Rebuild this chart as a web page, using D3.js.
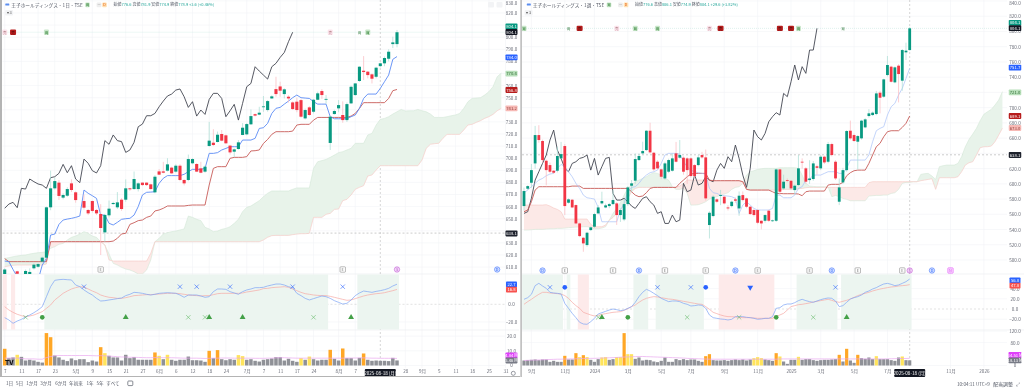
<!DOCTYPE html>
<html>
<head>
<meta charset="utf-8">
<script src="https://cdn.jsdelivr.net/npm/d3@7"></script>
<style>
html, body { margin: 0; padding: 0; background: #fff; overflow: hidden; }
svg { display: block; filter: blur(0.3px); }
text { font-family: "Noto Sans CJK JP", "Noto Sans", sans-serif; }
</style>
</head>
<body>
<div id="chart"></div>
<script>
// ---- daily chart (left) ----
const leftOpen = [598,600,602,606.5,600,604,604,609,610.3,614.5,
617.8,659.4,675.1,679.8,667.4,669,679.2,671.8,null,664.6,
657.2,664.6,657.2,653.9,638.7,652.8,662.1,659.4,665.7,665.7,
675.1,674.5,674.5,679.8,679.8,678.4,671.8,689.1,689.1,689.7,
692.2,688.9,693.8,682,682,695.8,695.2,691.6,688.9,710.1,
712.8,713.4,720,718.9,710.4,705.4,707.6,719.2,719.7,728,
736.4,736,742.5,739.8,749.4,757.1,759.3,753,750.8,746.1,
746.7,748,732.9,742,738.4,748.3,755.5,748.8,712.6,736.5,
741.2,735.7,731.5,745.3,752.2,763.8,772.3,771.5,769.3,767.3,
776.1,778.4,782.2,794.3,794.3];
const leftClose = [608,598,599,604.5,602,606.8,606,612,612.5,617.8,
659.4,675.1,681.1,668.8,669.6,674.5,673.7,665.4,null,659.1,
654.4,656.4,654.4,642.3,653.1,658.3,663,663.5,658,675.1,
674.3,682.8,679.2,677.8,677.8,674.5,684.7,686.4,688,694.9,
687.5,693.8,682,679.2,699.3,699.3,688.9,688,693,714.5,
710.9,719.4,714.5,712.3,704.8,707.3,713.1,725.2,728.2,734.8,
735.2,737.6,742.8,747.2,751.1,753,755.8,756.9,749.4,740.6,
739.8,734.3,739.8,735.7,748.3,753.6,752.2,749,734.3,739,
743.9,731.5,744.7,759,761.8,775.6,771.2,768.7,765.7,774.8,
778.4,782.8,788,795.7,804.1];
const leftHigh = [609,601,603,607,603,608,609,613,613.5,618.6,
660,689.7,684,682,671,676,682.5,672.5,null,670,
658,665,658,662,654,665,664,672,667,682.5,
675.5,689,680,680,680,679,686,691,697,700,
693,695,695,682.5,703,700,696,697,694,730,
724,722,723.3,719.5,711,708,715,729,729,740.3,
737,742.5,751.4,748,752,767.3,763.2,757.7,752,747,
750,749,741,743,749,755,757,752.2,735,740,
748,747,746,760,762,776,784.4,772,770,775.5,
779,784,790,800.4,806];
const leftLow = [596,596,597,600,598,603,603,608,609.5,614,
617,657,674,665.5,666,668,672,663.2,null,657.5,
653,655,653,620,631,651,661.5,658,656.5,664,
673,674,672.5,677,677,674,671,686,687.5,689,
687,688,681,677.5,681,695,688.5,687.5,688,709.5,
710,713,714,712,703,701,707,719,719,727.5,
734.5,735.5,738.4,738.5,749,750.8,750.8,749.4,746,740,
738,733.5,732,735,737,748,749,745,706.8,736,
738,729.3,730,745,751.5,763,764.6,766,761.8,766,
775,776,780,791,791.6];
const leftTenkan = [615,614.5,608,602,599.3,599.3,599.3,599.3,599.3,611.7,
617.2,636.5,637.3,645.3,648.9,649.7,650.3,651.1,652.2,673.7,
671,669,666.8,653,653,646.2,644.8,647,649.5,650,
650.3,653,660,669.6,671.8,672,672.3,679.2,683.4,685.6,
685.6,685.6,685.6,686.7,688.9,690.8,690.8,690.8,691.6,704,
704,704.6,706.8,708.1,709.5,709.5,709.5,715,715,715,
716.4,724.6,725.2,728.8,737,741.2,742,744.7,747.2,750,
752.2,750,749.7,749.4,746.7,744.7,744.7,744.7,734.3,732.6,
732.6,732.6,732.6,734.3,735.7,741.2,749.4,753,753,753,
757.7,763.2,768.7,781.7,784];
const leftKijun = [617,614.5,614.5,614.5,614.5,614.5,614.5,614.5,614.5,614.5,
614.5,631,631,631,631,631,631,631,631,631,
631,631,631,631,631,631,631.5,633.8,637.4,637.9,
645.3,646.7,648.4,648.9,651.1,652.2,656.4,657.2,658.6,660.5,
660.5,660.5,660.5,660.5,661,661.3,661.3,661.3,661.3,677.8,
691.6,693,693,693,699.9,700.7,700.7,700.7,701.3,706,
706.2,706.8,712.2,715.5,719.7,721.9,721.9,721.9,721.9,722.4,
727.4,728,728,728,731.5,733.7,733.7,733.7,733.7,733.7,
733.7,733.7,733.7,734.8,737,741.2,745.9,745.9,745.9,745.9,
745.9,745.9,749.4,755.8,756.8];
const leftChikou = [658.6,662.1,663.5,659.1,675.1,674.5,682.8,680.6,678.7,677.8,
675.1,683.9,684.7,687.5,694.9,688,693.8,682.8,679.8,699.3,
695.8,689.7,687.8,693.8,714.5,711.5,719.2,714.5,713.7,704.8,
706.8,713.1,726,728.2,735.1,735.1,737,742.5,747.2,751.4,
753,756.3,757.2,750.8,742,746.7,734.8,739.8,736.2,748.6,
753.6,753.6,749.4,734.3,739.2,744.5,731.5,745.3,759.1,761.8,
775.6,772,768.7,765.4,775.6,778.4,783.3,787.4,796.3,804.1];
const leftSpanA = [617.2,617.8,618.6,619.2,619.7,620,620.8,621.4,621.9,622.2,
622.7,625.5,626.9,628.8,629.6,632.4,634.6,635.7,637.3,639.3,
637.9,635.7,634.6,631,628.3,620.8,613.1,611.7,609.8,608.4,
607.6,606.2,604.3,604.3,607.6,615.9,631,633.8,637.4,638.4,
639.3,639.8,640.7,641.5,652.2,651.1,649.5,648.4,642.9,641.5,
639.3,639.8,641.2,642,643.4,646.2,649.5,655.8,659.4,660.5,
662.7,664.9,668.2,671,672.9,672.9,672.9,672.9,672.9,674.3,
675.4,675.4,675.4,675.4,691.6,697.1,698,699,700.7,702.6,
704.6,705.4,706.8,708.2,712.3,712.3,712.3,719.2,720.5,727.4,
732.1,732.9,734.3,736.5,738.4,740.3,739,739.2,739.2,740.3,
739.2,738.4,736.5,733.7,733.7,733.7,734.3,735.1,735.7,737,
741.2,746.7,749.4,749.7,750,752.2,754.9,759.1,767.3,770.4];
const leftSpanB = [610.3,611,611.5,611.7,611.7,611.7,611.7,611.7,611.7,611.7,
612.6,631,631,631,631,631,631,631,631,631,
631,631,631,631,628.3,615.9,615,615,615,615,
615,615,615,615,615,621.4,631,631,631,631,
631,631,631,631,631,631,631,631,631,631,
631,631,631,631,631,631,631,631,631,631,
631,631,632.4,634.6,636,636.2,636.2,636.2,636.2,636.8,
637.3,637.6,637.6,637.9,651.1,651.1,651.1,653.6,654.4,657.7,
658,664.9,666,669.6,674.3,675.9,677.3,685.3,686.1,690.2,
693.8,693.8,693.8,693.8,693.8,693.8,693.8,693.8,693.8,693.8,
698.5,708.1,711.5,712,712.3,716.4,719.7,719.7,719.7,719.7,
723.3,727.4,728,729.6,731,732.9,734.3,736.2,739.2,741.2];
const leftMacd = [-15.1,-17.7,-21.5,-18.9,-17,-14.3,-12.1,-9.5,-6.4,-2.7,
8.6,19.9,27.1,27.8,28.2,27.8,27.5,21.8,19.9,16.2,
13.1,10.5,6.7,3.7,4.1,4.9,5.6,6.4,7.1,9.8,
11.3,13.5,13.1,12.4,11.3,10.5,11.3,12.4,12.8,13.1,
12.8,12.4,10.5,7.9,10.5,10.5,10.5,9.4,7.9,8.6,
14.3,17.3,17.3,16.9,14.3,12.8,11.3,14.3,16.2,17.3,
18.8,18.8,19.2,20.7,21.8,22.9,22.9,21.8,19.9,18.8,
12.4,9.8,6.7,4.9,6.4,7.9,9.4,8.6,6.7,4.1,
2.2,0.3,1.1,4.9,9.8,12.8,15,14.3,13.5,14.6,
15.4,16.5,18,20.7,22.7];
const leftSignal = [-2.7,-6.4,-9.1,-11.3,-12.8,-14,-13.2,-12.1,-10.2,-8.3,
-4.6,-0.8,4.9,8.6,12.4,15,17.3,18.8,19.9,19.5,
17.3,15,13.1,10.5,9,7.9,7.5,6.7,6.7,7.5,
8.6,9.8,10.1,10.5,10.9,10.9,11.3,11.6,12,12.4,
12.4,12.4,12,11.3,10.5,10.1,9.8,9.4,9.8,9.8,
10.9,12,12.4,12.4,12.4,12.4,12.4,12.8,13.9,14.6,
15.4,16.2,17.7,18,18.8,19.2,19.5,19.9,19.2,17.3,
15.4,13.5,12,11.3,10.5,10.1,9.8,9.8,9,7.9,
6.7,5.6,4.5,4.9,6.4,7.9,9.4,10.5,11.3,12,
12.4,13.1,14.3,15.4,16.8];
const leftVolume = [11.4,5,5.5,7.3,5.9,3.4,3.9,3.4,2.5,2,
22.1,19.3,6.8,5.5,3.9,3,4.8,3.6,4.3,4.3,
2.3,3.4,2.7,12.5,8.4,6.6,5.5,5.5,3.4,7.3,
5,5.7,3.9,3.9,3.9,3.9,8.9,6.6,4.3,7.3,
3.9,3.2,3.9,3.9,6.1,3.6,3.6,3.4,2.5,10,
5,10.5,4.3,3.6,4.3,3.9,7.1,6.4,3.9,4.3,
3.2,2.7,3.9,4.3,4.8,5.7,5.7,3.4,4.6,3.2,
2.5,5,3.9,6.1,4.3,3.4,3.9,3.9,10.7,4.6,
3.4,11.6,5,5,3.4,5.2,8.2,3.9,3.2,3.4,
3.2,3.2,3,5.2,3.46];
const leftVolumeMa = [5,5.1,5.1,5,4.8,4.5,4.5,4.5,4.3,4.3,
5.4,6.1,6.6,6.8,6.8,6.8,6.8,6.8,6.8,6.8,
6.8,6.7,6.6,6.7,6.6,6.4,6.2,6,5.8,5.8,
5.6,5.6,5.5,5.4,5.3,5.3,5.4,5.4,5.3,5.3,
5.3,5.2,5.1,5,5,5,5,4.9,4.8,4.9,
5,5,5.1,5.1,5.1,5,5,5,5,5,
4.9,4.9,4.9,5,5,5.2,5.3,5.3,5.2,5.1,
5,5,5,5,5,5,5,5,5,5,
5,5,5.1,5.1,5.1,5.2,5.2,5.1,5,5,
4.9,4.9,4.9,4.9,4.84];
const leftVolOrange = [0,10,11,23,36,49,51,78,81,86];
const leftVolYellow = [3,24,37,39,56,57,71,73];
const leftPriceTicks = [830,820,800,790,780,760,750,730,720,710,700,690,680,670,660,650,630,620,610];
const leftPriceGrid = [810,770,740,640];
const leftMacdTicks = [0,-20];
const leftVolumeTicks = [20,10,0];
const leftDateIndex = [0,4,8,12,17,21,25,29,33,37,41,45,49,53,58,62,66,70,74,80,84,96,100,104,108,112,116,120];
const leftDateLabels = ["7","11","17","23","5月","9","15","21","27","6月","6","12","18","24","7月","7","11","17","24","8月","7","28","9月","5","11","18","25","31"];
const leftGreenBands = [[10,77],[85,94]];
const leftPinkBands = [[0,0],[2,2]];
const leftBlueX = [19,42,46,54,69,81];
const leftGreenX = [5,44,48,74];
const leftGreenDot = [9];
const leftGreenUp = [29,49,57,83];
const leftBlueDot = [];
const leftBlueDown = [];
const leftEarnings = [23,81];
const leftPurple = [94];
const leftBlueEvent = [118];
const leftPink = [];
const leftBuyChips = [10,87];
const leftSellChips = [2];
const leftPaleSell = [0,78];
const leftSmallText = [85];

// ---- weekly chart (right) ----
const rightOpen = [570.8,593.6,601.4,626.8,664,656.2,630.3,624.6,617.2,617.2,
633.4,649.6,575.2,579.1,572.1,548,529.2,519.6,539.3,543.7,
561.2,574.3,569,570.8,573.4,574.3,559,553.3,573.4,597.5,
604.1,631.2,640,644.3,669.7,640.8,629,619,607.1,615.9,
617.2,640,634.3,634.3,633.4,633.4,624.6,624.6,637.8,634.7,
545.9,557.7,579.6,584,583,569,570.8,579.6,567.7,585.2,
580.9,569.9,565.6,565.6,551.5,551.5,564.7,551,551.5,618.9,
594,605,604,591.8,598.4,629,620.3,604.9,606.3,623,
620.3,635.6,629,652.2,629,576.5,601.9,618,669.7,664,
655.3,659.7,674.1,689,690.3,691.6,719.6,714.4,742.8,753.8,
733.2,755.1,735.4,772.6,775.6];
const rightClose = [590.5,597,618,664,657.5,631.2,618,615.9,614.6,636.5,
639,570.8,579.6,569,548,531.4,521.8,535.8,542.8,560.3,
569,577.4,571.7,573.4,578.7,559,565.6,573.4,595.3,600.6,
632.5,636.5,643,669.7,641.3,619,620.3,609.3,626.8,631.2,
633.4,629,637.8,615.9,618,610.2,610.2,634.7,634.7,580.9,
562,583.1,576.5,585.2,574.3,567.7,576.5,577.8,584.4,578.7,
569.9,560.3,559,548.9,548,559,551.5,552,618.9,589.6,
602.8,604,594,597.5,620.3,628.1,602.8,607,626.8,621,
635.6,628.1,652.2,637.8,607.1,595.3,618,669.3,659.7,656.2,
662.7,682.9,684.6,692.5,693.4,718.7,713,737.1,756,734,
752.9,744.1,775.6,774.8,804.1];
const rightHigh = [595,598,626,676,677,658,632,628,618,648.7,
655,652,581,580,573,549,530,537,544,562,
572,589.6,574,575,591.8,576,568,580,597,605,
640,640,655.3,670.5,680.2,642,631,620,629,633,
640,655,657.5,636,635,635,626,638,642,645,
564,585,581,592,584,572,578,582,590,590,
582,571,567,567,552,560,566,553,620,620,
612,607,605,599,637.8,633.4,622,631,630,625,
638,637,655,654,631,607,621,670.5,683,666,
664,684,686,698,695,722,722,738,767.8,755,
754,757,777,785.3,806];
const rightLow = [565,592,595,620,654,628,598,614,613,615,
632,559,574,568,547,530,510.8,517.4,538,542,
560,573,568,568,572,546,550,551,571,590,
600,630,638,643,640,617,619,606,605,614,
616,628,633,612,600,608,608,623,633,578,
528.3,556,575,572,573,565,569,575,558,577,
568,559,557,547,540.2,549,550,550,550,585,
592,602,592,586,597,620,600,600,604,612,
618,626,627,636,605,572.1,600,616,658,655,
618.9,658,673,687,689,690,692.5,713,741,733,
732,706.9,722.2,762.5,774.9];
const rightTenkan = [588.3,591.8,596.2,600.6,604.9,607.1,610.6,612.8,613.7,620.3,
625.5,622.5,615.9,609.3,600.6,594,585.2,581.7,580.9,580,
569,550.2,550.2,550.2,550.2,550.2,565.6,574.3,589.6,595.3,
596.2,600.6,607.1,611.5,614.6,615.9,618,626.8,637.8,640,
640,640,639.1,629,622.5,618,615.9,614.6,613.7,612.8,
594,588.3,587.4,585.2,584.4,583.9,583.1,580.9,561.2,572.1,
576.5,572.1,567.7,565.6,565.6,565.6,565.6,567.7,585.2,585.2,
581.7,581.7,581.7,585.2,594,596.2,604.9,606.3,611.5,611.5,
611.5,613.7,615.9,615.9,615.9,613.7,613.7,620.3,631.2,631.2,
631.2,631.2,631.2,637.8,655.3,669.7,672.8,675,690.3,701.2,
705.6,716.6,725.3,738.4,751.7];
const rightKijun = [563.4,565.6,576.5,591.8,596.2,596.2,596.2,596.2,596.2,596.2,
596.2,596.2,596.2,597,597,597,594,594,594,594,
594,594,594,594,594,594,594,594,594,589.6,
585.2,583.1,584,588.3,594,595.3,595.3,595.3,595.3,595.3,
595.3,595.3,600.6,604.9,609.3,612.8,613.7,613.7,613.7,613.7,
604.9,604.1,604.1,604.1,604.1,604.1,604.1,604.1,604.1,602.8,
592.7,591.8,591.8,591.8,591.8,591.8,591.8,589.6,587.4,587.4,
587,587,587,587,586.6,584.4,589.6,590.5,590.5,590.5,
590.5,590.5,598.4,599.3,599.3,599.3,601.9,610.6,614.6,617.2,
618,618,618,626.8,637.8,648.7,653.1,661.8,668.4,669.7,
669.7,669.7,674.1,679.4,689.1];
const rightChikou = [561.2,563.4,580.9,604.9,615.9,626.8,637.8,657.5,670.6,644.3,
633.4,620.3,615.9,626.8,629,633.4,634.7,637.8,618,633.4,
611.5,622.5,633.4,634.7,587.4,578.7,578.7,580.9,576.5,570.8,
567.7,574.3,580.9,583.1,576.5,572.1,561.2,563.4,548,548,
559,550.2,552.4,600.6,589.6,591.8,611.5,598.4,600.6,609.3,
604.9,602.8,618,626.8,620.3,635.6,629,650.9,633.4,611.5,
595.3,620.3,670.6,661.8,657.5,666.2,681.5,688.1,693.4,690.3,
718.7,714.4,734,756,736.3,753.8,745,775.6,775.6,804.1];
const rightSpanA = [539.3,539.3,539.7,540.2,540.2,540.2,540.6,541,541,541.5,
541.5,541.9,542.4,542.8,543.2,543.2,543.7,543.7,542.8,541,
541,541.9,543.7,552.4,561.2,567.7,575.2,585.2,594,598.4,
602.8,604.9,607.1,609.3,612.4,614.6,613.7,611.5,607.1,604.9,
596.2,592.7,592.7,594,587.4,572.1,572.1,572.6,574.3,576.5,
580,581.7,583.1,585.2,586.6,588.3,592.7,595.3,596.2,600.6,
611.5,615.9,617.2,619,619.8,620.3,620.3,620.3,620.3,621.1,
621.1,621.1,621.1,621.1,620.3,611.5,600.6,597.1,596.6,596.2,
596.2,596.2,595.8,583.1,584.8,583.1,580.9,579.6,577.8,577.8,
577.8,577.8,577.8,583.9,584.4,584.8,584.8,585.2,585.2,587.4,
588.3,592.7,600.6,601.9,601.9,602.8,602.8,612.4,613.3,613.7,
610.2,605.8,622.5,623.8,624.6,624.6,624.6,626.8,635.6,648.7,
658.3,665.3,672.8,682.9,691.2,694.7,697.7,703.4,710,721];
const rightSpanB = [572.1,572.1,572.1,572.1,572.1,572.1,572.6,570.8,568.2,566.4,
563.4,553.7,553.7,553.7,553.7,553.7,553.7,553.7,546.7,543.7,
543.7,543.7,545.9,552.4,555.9,561.2,565.6,572.1,580.9,589.6,
594,595.3,595.3,595.3,595.3,595.3,595.3,595.3,595.3,595.3,
595.3,595.3,597.1,600.6,604.9,604.9,604.9,604.9,604.9,604.9,
604.1,604.1,604.1,604.1,604.1,604.1,604.1,604.1,604.1,602.8,
592.7,591.8,591.8,591.8,591.8,591.8,591.8,591.8,591.8,591.8,
592.7,592.7,592.7,592.7,593.6,594,594.9,595.3,595.3,595.3,
595.3,595.3,595.3,595.3,595.3,595.3,595.3,595.3,595.3,595.3,
595.3,595.3,595.3,601.4,602.8,602.8,602.8,602.8,602.8,602.8,
602.8,602.8,602.8,602.8,602.8,602.8,602.8,604.1,604.9,605.8,
606.7,592.7,608,608,608,608,608,609.3,615.9,624.6,
627.7,629,637.8,647.4,648.7,648.7,649.6,655.3,664,673];
const rightMacd = [19,22.2,28.8,45.8,50.3,45.1,40.5,32.7,31.4,30.7,
29.4,11.1,1.3,-8.5,-17,-26.1,-29.4,-30,-24.8,-18.3,
-9.8,-7.2,-4.6,-2,0,-1.3,-3.2,-2,1.3,4.6,
13.1,24.2,32.7,38.6,35.3,30.7,26.2,20.9,17.7,14.4,
15.7,15.7,14.4,11.1,9.2,5.9,6.6,7.9,7.2,1.3,
-11.7,-17,-18.3,-19.6,-20.2,-21.5,-20.2,-15,-15,-15,
-16.3,-17,-18.3,-20.2,-19.6,-18.3,-18.3,-15,1.3,2.6,
7.9,9.8,9.8,12.4,16.4,19,16.4,14.4,13.1,15.7,
18.3,20.3,21.6,20.9,15.7,4.6,6.6,13.1,19.6,22.2,
24.2,27.5,32.7,35.3,39.2,41.9,45.8,49,50.3,48.4,
45.8,47.1,50.3,53.6,58.8];
const rightSignal = [9.2,14.4,19,24.2,28.8,32.7,32.7,31.4,30.7,30.1,
29.4,26.2,20.9,13.1,6.6,1.3,-6.5,-9.1,-11.7,-13.7,
-12.4,-10.4,-9.1,-7.8,-6.5,-5.9,-5.2,-2.6,0.7,4.6,
7.9,13.1,17.7,20.9,22.9,24.2,23.6,22.2,20.9,19.6,
19,17.7,16.4,15.1,13.8,12.4,11.1,9.8,9.2,4.6,
-0.6,-6.5,-9.1,-11.7,-13.7,-15,-15,-15.7,-16.3,-17,
-17,-17,-17.6,-18.3,-18.3,-18.3,-18.3,-18.3,-15,-11.7,
-8.5,-2,4.6,6.6,8.5,9.2,10.5,11.8,13.8,15.1,
16.4,17.7,19,17,14.4,13.1,15.1,17,19.6,22.9,
26.2,28.8,30.7,32.7,35.3,37.3,39.2,40.5,41.9,43.2,
43.8,45.1,45.8,46.4,47.8];
const rightVolume = [17.5,18.7,19.8,21,18.7,21,21,12.8,16.3,12.8,
12.8,33.8,21,21,43.1,29.2,36.1,29.2,19.8,12.8,
22.2,28,29.2,19.8,22.2,29.2,29.2,113.1,39.6,39.6,
23.3,28,17.5,19.8,18.7,14,11.7,16.3,28,12.8,
12.8,22.2,18.7,22.2,18.7,21,21,16.3,12.8,32.6,
39.6,18.7,17.5,17.5,18.7,16.3,18.7,21,18.7,21,
17.5,21,25.7,29.2,25.7,21,18.7,16.3,43.1,31.5,
14,5.8,19.8,19.8,30.3,19.8,22.2,22.2,18.7,16.3,
18.7,19.8,19.8,21,22.2,37.3,14,58.3,17.5,9.3,
37.3,25.7,23.3,28,22.2,32.6,22.2,22.2,22.2,18.7,
16.3,28,31.5,18.7,18.13];
const rightVolumeMa = [17.5,18,18.5,19,19.5,20,20.5,21,21.5,22,
22,22.5,23,23,23.5,24,24.5,24.5,25,25,
25.5,26,26.5,27,27.5,28,29,29.5,30,30.5,
31,31.5,31.5,31,30.5,30,29.5,29,28.5,28,
27.5,27,26.5,26,25,24.5,24,23.5,23,22.5,
22,22,22,22,22,22,22,22,22,22,
22,22,22,22,22,22,22,22,22,23,
23,23,23,23,23,23,23,23,23,23,
23,23,23,23,23,23,23,23,23,23,
23,23,23,23,23,23,23,23,23.5,23.5,
24,24,24.5,24.5,25];
const rightVolOrange = [11,14,16,27,49,50,68,85,87,90];
const rightVolYellow = [15,17,21,22,25,26,28,29,62,63,64,69,74,95,102];
const rightPriceTicks = [840,820,800,780,760,740,700,680,660,620,600,580,560,540,520,500];
const rightPriceGrid = [720,640];
const rightMacdTicks = [40,20,0,-20];
const rightVolumeTicks = [120,80,0];
const rightDateIndex = [2,11,19,28,37,45,54,63,72,80,89,98,115,124];
const rightDateLabels = ["9月","11月","2024","3月","5月","7月","9月","11月","2025","3月","5月","7月","11月","2026"];
const rightGreenBands = [[0,10],[12,12],[30,33],[36,48],[74,84],[86,104]];
const rightPinkBands = [[15,17],[53,67]];
const rightBlueX = [7,36,45,84];
const rightGreenX = [20,44,58,78];
const rightGreenDot = [28,68];
const rightGreenUp = [21,87];
const rightBlueDot = [11,49];
const rightBlueDown = [61];
const rightEarnings = [11,24,38,49,63,77,90,102];
const rightPurple = [104];
const rightBlueEvent = [5,31,57,83,110];
const rightPink = [115];
const rightBuyChips = [0,30,36,74];
const rightSellChips = [15,53,69,72];
const rightPaleSell = [25,50];
const rightSmallText = [12,86];

const tfLeft = { name: "王子ホールディングス・1日・TSE", o: "776.6", h: "781.9", l: "774.9", c: "778.9", chg: "+3.6 (+0.46%)" };
const tfRight = { name: "王子ホールディングス・1週・TSE", o: "776.6", h: "806.1", l: "774.9", c: "804.1", chg: "+29.6 (+3.82%)" };

const GREEN = "#089981", RED = "#f23645";

class IchimokuPane {
    constructor(svg, cfg) {
        this.svg = svg;
        this.cfg = cfg;
        this.initVis();
    }

    initVis() {
        let vis = this;
        let c = vis.cfg;

        vis.x = d3.scaleLinear().domain([0, c.lastIndex]).range([c.firstX, c.lastX]);
        vis.y = d3.scaleLinear().domain(c.priceDomain).range(c.priceRange);
        vis.yMacd = d3.scaleLinear().domain(c.macdDomain).range(c.macdRange);
        vis.yVol = d3.scaleLinear().domain(c.volDomain).range([365.5, 330]);
        vis.g = vis.svg.append("g");

        vis.drawGrid();
        vis.drawBands();
        vis.drawCloud();
        vis.drawLines();
        vis.drawCandles();
        vis.drawMacd();
        vis.drawVolume();
        vis.drawAxes();
        vis.drawEvents();
        vis.drawHeader();
        vis.drawPriceLabels();
    }

    drawGrid() {
        let vis = this;
        let c = vis.cfg;
        let g = vis.g.append("g").attr("stroke", "#f2f4f6").attr("stroke-width", 0.6);
        c.priceTicks.concat(c.priceGrid).forEach(p => {
            if (vis.y(p) < 274)
                g.append("line").attr("x1", c.left).attr("x2", c.right).attr("y1", vis.y(p)).attr("y2", vis.y(p));
        });
        c.macdTicks.forEach(v => {
            if (v !== 0) g.append("line").attr("x1", c.left).attr("x2", c.right).attr("y1", vis.yMacd(v)).attr("y2", vis.yMacd(v));
        });
        c.volTicks.forEach(v => {
            g.append("line").attr("x1", c.left).attr("x2", c.right).attr("y1", vis.yVol(v)).attr("y2", vis.yVol(v));
        });
        c.dateIndex.forEach(i => {
            g.append("line").attr("x1", vis.x(i)).attr("x2", vis.x(i)).attr("y1", 0).attr("y2", 368);
        });
        // pane separators
        [274, 330].forEach(yy => {
            vis.g.append("line").attr("x1", c.left).attr("x2", c.axisRight).attr("y1", yy).attr("y2", yy)
                .attr("stroke", "#eceef1").attr("stroke-width", 0.7);
        });
        // last-close line and crosshair
        vis.g.append("line").attr("x1", c.left).attr("x2", c.right).attr("y1", vis.y(c.lastClose)).attr("y2", vis.y(c.lastClose))
            .attr("stroke", "#c6e8e1").attr("stroke-width", 0.6).attr("stroke-dasharray", "1,1");
        vis.g.append("line").attr("x1", c.left).attr("x2", c.right).attr("y1", vis.y(638.1)).attr("y2", vis.y(638.1))
            .attr("stroke", "#a8a8a8").attr("stroke-width", 0.6).attr("stroke-dasharray", "2,2");
        vis.g.append("line").attr("x1", vis.x(c.crossIndex)).attr("x2", vis.x(c.crossIndex)).attr("y1", 0).attr("y2", 368)
            .attr("stroke", "#b8b8b8").attr("stroke-width", 0.6).attr("stroke-dasharray", "2,2");
        vis.g.append("line").attr("x1", c.left).attr("x2", c.right).attr("y1", vis.yMacd(0)).attr("y2", vis.yMacd(0))
            .attr("stroke", "#c4c4c4").attr("stroke-width", 0.5).attr("stroke-dasharray", "2,2");
    }

    drawBands() {
        let vis = this;
        let c = vis.cfg;
        let half = (vis.x(1) - vis.x(0)) / 2;
        const band = (list, color) => list.forEach(b => {
            vis.g.append("rect")
                .attr("x", vis.x(b[0]) - half)
                .attr("width", vis.x(b[1]) - vis.x(b[0]) + 2 * half)
                .attr("y", 274.5).attr("height", 55)
                .attr("fill", color);
        });
        band(c.greenBands, "#ecf5f0");
        band(c.pinkBands, "#fdeaea");
    }

    drawCloud() {
        let vis = this;
        let c = vis.cfg;
        let clip = "clip-main-" + c.id;
        vis.svg.append("defs").append("clipPath").attr("id", clip).append("rect")
            .attr("x", c.left).attr("y", 0).attr("width", c.right - c.left).attr("height", 274);
        vis.main = vis.g.append("g").attr("clip-path", `url(#${clip})`);

        let idx = d3.range(c.spanA.length);
        let area = d3.area()
            .x(i => vis.x(i))
            .y0(i => vis.y(c.spanB[i]))
            .y1(i => vis.y(c.spanA[i]));

        // split into runs by which span is on top
        let runs = [];
        let cur = null;
        idx.forEach(i => {
            let up = c.spanA[i] >= c.spanB[i];
            if (!cur || cur.up !== up) {
                if (cur) cur.points.push(i);
                cur = { up: up, points: [i] };
                runs.push(cur);
            } else {
                cur.points.push(i);
            }
        });
        runs.forEach(r => {
            vis.main.append("path").attr("d", area(r.points))
                .attr("fill", r.up ? "#e8f3ea" : "#fce9e7");
        });
        let line = d3.line().x(i => vis.x(i));
        vis.main.append("path").attr("d", line.y(i => vis.y(c.spanA[i]))(idx))
            .attr("fill", "none").attr("stroke", "#d3e8d6").attr("stroke-width", 0.6);
        vis.main.append("path").attr("d", line.y(i => vis.y(c.spanB[i]))(idx))
            .attr("fill", "none").attr("stroke", "#f7cdc8").attr("stroke-width", 0.7);
    }

    drawLines() {
        let vis = this;
        let c = vis.cfg;
        const draw = (values, color, width) => {
            let line = d3.line().x((d, i) => vis.x(i)).y(d => vis.y(d));
            vis.main.append("path").attr("d", line(values))
                .attr("fill", "none").attr("stroke", color).attr("stroke-width", width);
        };
        draw(c.chikou, "#434651", 0.9);
        draw(c.kijun, "#c75b58", 0.9);
        draw(c.tenkan, c.tenkanColor, c.tenkanWidth);
    }

    drawCandles() {
        let vis = this;
        let c = vis.cfg;
        let w = c.candleWidth;
        c.open.forEach((o, i) => {
            if (o === null) return;
            let up = c.close[i] >= o;
            vis.main.append("line")
                .attr("x1", vis.x(i)).attr("x2", vis.x(i))
                .attr("y1", vis.y(c.high[i])).attr("y2", vis.y(c.low[i]))
                .attr("stroke", up ? "#a8dcd2" : "#fbb9bf").attr("stroke-width", 0.7);
            let top = vis.y(Math.max(o, c.close[i]));
            let h = Math.max(vis.y(Math.min(o, c.close[i])) - top, 0.8);
            vis.main.append("rect")
                .attr("x", vis.x(i) - w / 2).attr("width", w)
                .attr("y", top).attr("height", h)
                .attr("fill", up ? GREEN : RED);
        });
    }

    drawMacd() {
        let vis = this;
        let c = vis.cfg;
        let line = d3.line().x((d, i) => vis.x(i)).y(d => vis.yMacd(d));
        vis.g.append("path").attr("d", line(c.signal))
            .attr("fill", "none").attr("stroke", "#f7a9a5").attr("stroke-width", 0.7);
        vis.g.append("path").attr("d", line(c.macd))
            .attr("fill", "none").attr("stroke", "#7da4f5").attr("stroke-width", 0.7);

        const BLUE = "#2962ff", GR = "#43a047";
        const put = (list, val, type, size, fill, stroke, rot) => list.forEach(i => {
            vis.g.append("path")
                .attr("d", d3.symbol().type(type).size(size)())
                .attr("transform", `translate(${vis.x(i)},${vis.yMacd(val)}) rotate(${rot || 0})`)
                .attr("fill", fill).attr("stroke", stroke).attr("stroke-width", stroke === "none" ? 0 : 0.6);
        });
        put(c.blueX, c.macdTopRow, d3.symbolX, 14, "none", BLUE);
        put(c.greenX, c.macdLowRow, d3.symbolX, 14, "none", "#66bb6a");
        put(c.greenDot, c.macdLowRow, d3.symbolCircle, 17, GR, "none");
        put(c.greenUp, c.macdLowRow, d3.symbolTriangle, 15, GR, "none");
        put(c.blueDot, c.macdTopRow, d3.symbolCircle, 17, BLUE, "none");
        put(c.blueDown, c.macdTopRow, d3.symbolTriangle, 15, BLUE, "none", 180);
    }

    drawVolume() {
        let vis = this;
        let c = vis.cfg;
        let w = c.volWidth;
        c.volume.forEach((v, i) => {
            let color = "#8f9197";
            if (c.volOrange.includes(i)) color = "#ffa726";
            if (c.volYellow.includes(i)) color = "#ffe45c";
            vis.g.append("rect")
                .attr("x", vis.x(i) - w / 2).attr("width", w)
                .attr("y", vis.yVol(v)).attr("height", vis.yVol(0) - vis.yVol(v))
                .attr("fill", color);
        });
        let line = d3.line().x((d, i) => vis.x(i)).y(d => vis.yVol(d));
        vis.g.append("path").attr("d", line(c.volumeMa))
            .attr("fill", "none").attr("stroke", "#eaa7ef").attr("stroke-width", 0.7);
    }

    drawAxes() {
        let vis = this;
        let c = vis.cfg;
        const style = (g, family) => {
            g.select(".domain").remove();
            g.selectAll("line").remove();
            g.selectAll("text").attr("font-size", 4.6).attr("fill", "#6a6d78").attr("font-family", family);
        };
        const yAxis = (scale, ticks, fmt) => {
            let axis = vis.g.append("g").attr("transform", `translate(${c.axisX},0)`)
                .call(d3.axisRight(scale).tickValues(ticks).tickSize(0).tickPadding(0).tickFormat(fmt))
                .call(style, "Roboto");
            axis.selectAll("text").attr("text-anchor", "middle");
            // the topmost label would be cut by the window edge
            axis.selectAll(".tick").filter(d => scale(d) < 3).select("text").attr("y", 2);
        };
        yAxis(vis.y, c.priceTicks, d3.format(".1f"));
        yAxis(vis.yMacd, c.macdTicks, d3.format(".1f"));
        yAxis(vis.yVol, c.volTicks, v => v === 0 ? "0" : d3.format(".1f")(v));

        vis.g.append("g").attr("transform", "translate(0,369.5)")
            .call(d3.axisBottom(vis.x).tickValues(c.dateIndex).tickSize(0).tickPadding(0)
                .tickFormat((d, i) => c.dateLabels[i]))
            .call(style, '"Noto Sans CJK JP", sans-serif');

        // crosshair date box
        let cx = vis.x(c.crossIndex);
        vis.g.append("rect").attr("x", cx - 15.5).attr("y", 369).attr("width", 31).attr("height", 8).attr("rx", 1).attr("fill", "#131722");
        vis.g.append("text").attr("x", cx).attr("y", 374.7).attr("text-anchor", "middle")
            .attr("font-size", 4.6).attr("fill", "#fff").text("2025-08-18 (月)");
    }

    drawEvents() {
        let vis = this;
        let c = vis.cfg;
        const badge = (list, color, glyph, round) => list.forEach(i => {
            let gg = vis.g.append("g").attr("transform", `translate(${vis.x(i)},${c.eventY})`);
            if (round) gg.append("circle").attr("r", 2.7).attr("fill", color + "33").attr("stroke", color).attr("stroke-width", 0.5);
            else gg.append("rect").attr("x", -2.7).attr("y", -2.7).attr("width", 5.4).attr("height", 5.4).attr("rx", 0.7)
                .attr("fill", color === "#777777" ? "#fff" : color + "33").attr("stroke", color).attr("stroke-width", 0.5);
            gg.append("text").attr("y", 1.4).attr("text-anchor", "middle").attr("font-size", 3.8).attr("fill", color).text(glyph);
        });
        badge(c.earnings, "#777777", "E", false);
        badge(c.blueEvent, "#2962ff", "D", true);
        badge(c.purple, "#ba3fd0", "S", true);
        badge(c.pink, "#e040fb", "N", false);

        const chip = (list, fill, color, w, glyph) => list.forEach(i => {
            let gg = vis.g.append("g").attr("transform", `translate(${vis.x(i)},${vis.y(c.lastClose)})`);
            gg.append("rect").attr("x", -w / 2).attr("y", -2.7).attr("width", w).attr("height", 5.4).attr("rx", 1).attr("fill", fill);
            gg.append("text").attr("y", 1.3).attr("text-anchor", "middle").attr("font-size", 3.6).attr("fill", color).text(glyph);
        });
        chip(c.buyChips, "#c8e6c9", "#2e7d32", 5, "買");
        chip(c.sellChips, "#b71c1c", "#3b0a0a", 6, "売");
        chip(c.paleSell, "#fce4ec", "#a06a70", 5, "売");
        chip(c.smallText, "none", "#4c8a57", 4, "買");
    }

    drawHeader() {
        let vis = this;
        let c = vis.cfg;
        let left = c.left + c.headerShift;
        let x0 = left + 2.8;
        vis.g.append("rect").attr("x", x0).attr("y", 3.6).attr("width", 4).attr("height", 1.8).attr("rx", 0.5).attr("fill", "#5b8def");
        vis.g.append("text").attr("x", x0 + 6).attr("y", 6.5).attr("font-size", 4.7).attr("fill", "#555a66").text(c.tf.name);
        const chip = (cx, w, fill, color, glyph) => {
            vis.g.append("rect").attr("x", cx - w / 2).attr("y", 2.4).attr("width", w).attr("height", 4.8).attr("rx", 1).attr("fill", fill);
            vis.g.append("text").attr("x", cx).attr("y", 6).attr("text-anchor", "middle").attr("font-size", 3.6).attr("fill", color).text(glyph);
        };
        chip(left + 85, 4.6, "#c8e6c9", "#2e7d32", "買");
        chip(left + 96.5, 4.8, "#eeeeee", "#777", "—");
        chip(left + 102, 4.6, "#ffe0b2", "#e65100", "D");

        let t = vis.g.append("text").attr("x", left + 111).attr("y", 6).attr("font-size", 4);
        [["始値", c.tf.o], ["高値", c.tf.h], ["安値", c.tf.l], ["終値", c.tf.c]].forEach(p => {
            t.append("tspan").attr("fill", "#555a66").text(p[0]);
            t.append("tspan").attr("fill", "#26a69a").text(p[1] + " ");
        });
        t.append("tspan").attr("fill", "#26a69a").text(c.tf.chg);

        vis.g.append("rect").attr("x", c.left + 2.6).attr("y", 10).attr("width", 8).attr("height", 5.4).attr("rx", 1).attr("fill", "#f2f3f5");
        vis.g.append("text").attr("x", c.left + 6.6).attr("y", 14.2).attr("text-anchor", "middle").attr("font-size", 4).attr("fill", "#555").text("▾ 3");
    }

    drawPriceLabels() {
        let vis = this;
        let c = vis.cfg;
        c.labels.forEach(l => {
            vis.g.append("rect").attr("x", c.axisX - l.w / 2).attr("y", l.y - 2.9).attr("width", l.w).attr("height", 5.8).attr("rx", 0.8).attr("fill", l.fill);
            vis.g.append("text").attr("x", c.axisX).attr("y", l.y + 1.6).attr("text-anchor", "middle")
                .attr("font-family", "Roboto").attr("font-size", 4.2).attr("fill", l.color).text(l.text);
        });
    }
}

const svg = d3.select("#chart").append("svg").attr("width", 1024).attr("height", 388);
svg.append("rect").attr("width", 1024).attr("height", 388).attr("fill", "#fff");

new IchimokuPane(svg, {
    id: "left", left: 2.5, right: 505, axisRight: 519, axisX: 511.5, tf: tfLeft, headerShift: 0,
    firstX: 4.7, lastX: 397, lastIndex: 94, crossIndex: 90, candleWidth: 3.1, volWidth: 3.5,
    priceDomain: [720, 830], priceRange: [134, 0.9], macdDomain: [0, -20], macdRange: [304.3, 322],
    volDomain: [0, 24.2], eventY: 269.5, lastClose: 804.1, macdTopRow: 19.9, macdLowRow: -14.7,
    open: leftOpen, close: leftClose, high: leftHigh, low: leftLow,
    tenkan: leftTenkan, kijun: leftKijun, chikou: leftChikou, spanA: leftSpanA, spanB: leftSpanB,
    tenkanColor: "#5b8bf5", tenkanWidth: 0.9,
    macd: leftMacd, signal: leftSignal, volume: leftVolume, volumeMa: leftVolumeMa,
    volOrange: leftVolOrange, volYellow: leftVolYellow,
    priceTicks: leftPriceTicks, priceGrid: leftPriceGrid, macdTicks: leftMacdTicks, volTicks: leftVolumeTicks,
    dateIndex: leftDateIndex, dateLabels: leftDateLabels,
    greenBands: leftGreenBands, pinkBands: leftPinkBands,
    blueX: leftBlueX, greenX: leftGreenX, greenDot: leftGreenDot, greenUp: leftGreenUp, blueDot: leftBlueDot, blueDown: leftBlueDown,
    earnings: leftEarnings, purple: leftPurple, blueEvent: leftBlueEvent, pink: leftPink,
    buyChips: leftBuyChips, sellChips: leftSellChips, paleSell: leftPaleSell, smallText: leftSmallText,
    labels: [
        { y: 26.5, text: "804.1", fill: GREEN, color: "#fff", w: 12 },
        { y: 32, text: "804.1", fill: "#131722", color: "#fff", w: 12 },
        { y: 57.3, text: "784.0", fill: "#2962ff", color: "#fff", w: 12 },
        { y: 73.7, text: "770.4", fill: "#b7dfb9", color: "#2e6b32", w: 12 },
        { y: 90, text: "756.8", fill: "#b71c1c", color: "#fff", w: 12 },
        { y: 108.3, text: "741.2", fill: "#f7b9b5", color: "#8d3a36", w: 12 },
        { y: 233.5, text: "638.1", fill: "#1e222d", color: "#fff", w: 12 },
        { y: 284.3, text: "22.7", fill: "#2962ff", color: "#fff", w: 11 },
        { y: 289.7, text: "16.8", fill: "#f7524f", color: "#fff", w: 11 },
        { y: 355.3, text: "4.84 M", fill: "#e040fb", color: "#fff", w: 12 },
        { y: 360.5, text: "3.46 M", fill: "#787b86", color: "#fff", w: 12 }
    ]
});

new IchimokuPane(svg, {
    id: "right", left: 522, right: 1007, axisRight: 1024, axisX: 1015, tf: tfRight, headerShift: 2,
    firstX: 524, lastX: 909.7, lastIndex: 104, crossIndex: 104, candleWidth: 2.8, volWidth: 3.2,
    priceDomain: [840, 500], priceRange: [1, 260], macdDomain: [0, -20], macdRange: [309, 319.2],
    volDomain: [0, 124], eventY: 270.5, lastClose: 804.1, macdTopRow: 42.5, macdLowRow: -16.3,
    open: rightOpen, close: rightClose, high: rightHigh, low: rightLow,
    tenkan: rightTenkan, kijun: rightKijun, chikou: rightChikou, spanA: rightSpanA, spanB: rightSpanB,
    tenkanColor: "#a9c1f8", tenkanWidth: 0.7,
    macd: rightMacd, signal: rightSignal, volume: rightVolume, volumeMa: rightVolumeMa,
    volOrange: rightVolOrange, volYellow: rightVolYellow,
    priceTicks: rightPriceTicks, priceGrid: rightPriceGrid, macdTicks: rightMacdTicks, volTicks: rightVolumeTicks,
    dateIndex: rightDateIndex, dateLabels: rightDateLabels,
    greenBands: rightGreenBands, pinkBands: rightPinkBands,
    blueX: rightBlueX, greenX: rightGreenX, greenDot: rightGreenDot, greenUp: rightGreenUp, blueDot: rightBlueDot, blueDown: rightBlueDown,
    earnings: rightEarnings, purple: rightPurple, blueEvent: rightBlueEvent, pink: rightPink,
    buyChips: rightBuyChips, sellChips: rightSellChips, paleSell: rightPaleSell, smallText: rightSmallText,
    labels: [
        { y: 22.8, text: "804.1", fill: GREEN, color: "#fff", w: 12.5 },
        { y: 28.2, text: "804.1", fill: "#131722", color: "#fff", w: 12.5 },
        { y: 67.7, text: "751.7", fill: "#2962ff", color: "#fff", w: 12.5 },
        { y: 92.3, text: "721.0", fill: "#b7dfb9", color: "#2e6b32", w: 12.5 },
        { y: 116, text: "689.1", fill: "#b71c1c", color: "#fff", w: 12.5 },
        { y: 128, text: "673.0", fill: "#f7b9b5", color: "#8d3a36", w: 12.5 },
        { y: 155, text: "638.1", fill: "#1e222d", color: "#fff", w: 12.5 },
        { y: 280.3, text: "56.8", fill: "#2962ff", color: "#fff", w: 11 },
        { y: 285.7, text: "47.8", fill: "#f7524f", color: "#fff", w: 11 },
        { y: 355, text: "34.51 M", fill: "#e040fb", color: "#fff", w: 13 },
        { y: 360.3, text: "18.13 M", fill: "#787b86", color: "#fff", w: 13 }
    ]
});

// frame lines between the two screenshots
svg.append("rect").attr("x", 0).attr("y", 0).attr("width", 2).attr("height", 377).attr("fill", "#b4b4b4");
svg.append("rect").attr("x", 0).attr("y", 376).attr("width", 520).attr("height", 1).attr("fill", "#b4b4b4");
svg.append("rect").attr("x", 520.4).attr("y", 0).attr("width", 1.4).attr("height", 377).attr("fill", "#b4b4b4");

// bottom bar, ranges
const rangeLabels = ["1日","5日","1か月","3か月","6か月","年初来","1年","5年","すべて"];
const rangeX = [9.5,19.5,32,46,61,76,90,100,113];
svg.append("g").selectAll("text").data(rangeLabels).join("text")
    .attr("x", (d, i) => rangeX[i]).attr("y", 385).attr("text-anchor", "middle")
    .attr("font-size", 4.6).attr("fill", "#555a66").text(d => d);
svg.append("rect").attr("x", 127.8).attr("y", 381).attr("width", 5).attr("height", 4.6).attr("rx", 0.8)
    .attr("fill", "none").attr("stroke", "#555a66").attr("stroke-width", 0.7);
svg.append("text").attr("x", 957).attr("y", 385.6).attr("font-size", 4.6).attr("fill", "#555a66").text("10:04:11 UTC+9");
svg.append("text").attr("x", 993).attr("y", 385.8).attr("font-size", 5).attr("fill", "#555a66").text("配当調整");
svg.append("text").attr("x", 1016).attr("y", 386).attr("font-size", 5).attr("fill", "#555a66").text("⤢");

// TradingView mark and top right buttons
svg.append("text").attr("x", 5).attr("y", 365).attr("font-size", 6.5).attr("font-weight", 900).attr("fill", "#111").text("TV");
[491, 499.5].forEach(x => {
    svg.append("rect").attr("x", x - 3).attr("y", 2).attr("width", 6).attr("height", 5.4).attr("rx", 1).attr("fill", "#f2f3f5");
});
svg.append("circle").attr("cx", 513.3).attr("cy", 373.3).attr("r", 2).attr("fill", "none").attr("stroke", "#6a6d78").attr("stroke-width", 0.7);
</script>
</body>
</html>
